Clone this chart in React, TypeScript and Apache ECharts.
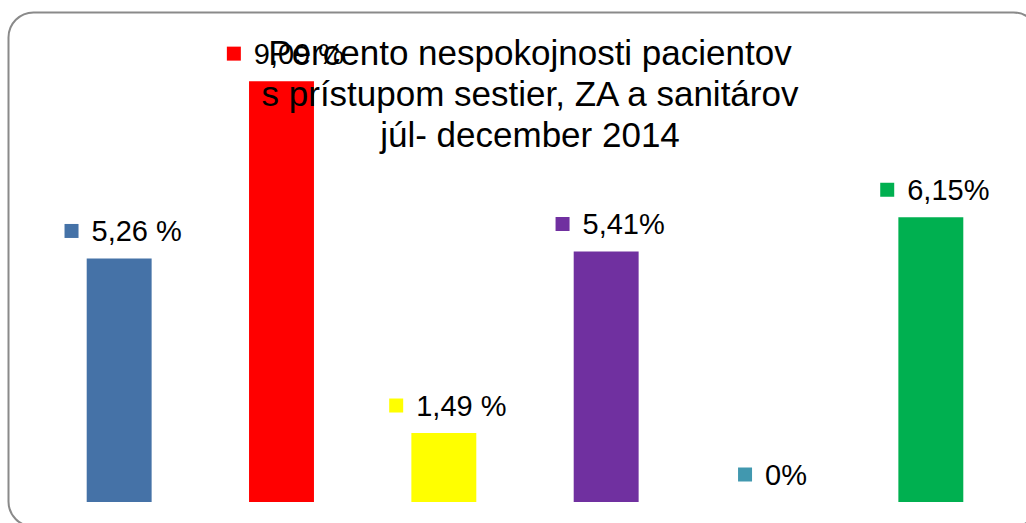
import React, { useEffect, useRef } from "react";
import * as echarts from "echarts";

const categories = ["A", "B", "C", "D", "E", "F"];
const values = [5.26, 9.09, 1.49, 5.41, 0, 6.15];
const labels = ["5,26 %", "9,09 %", "1,49 %", "5,41%", "0%", "6,15%"];
const colors = ["#4572A7", "#FF0000", "#FFFF00", "#7030A0", "#4198AF", "#00B050"];
const titleText = "Percento nespokojnosti pacientov\ns prístupom sestier, ZA a sanitárov\njúl- december 2014";

export default function App() {
  const ref = useRef<HTMLDivElement>(null);
  useEffect(() => {
    if (!ref.current) return;
    const chart = echarts.init(ref.current, undefined, { renderer: "svg" });
    const rich: any = {
      t: { fontSize: 29, color: "#000", fontFamily: "Liberation Sans, Arial, sans-serif", padding: [0, 0, 0, 13] },
    };
    colors.forEach((c, i) => {
      rich["s" + i] = { width: 14, height: 14, backgroundColor: c };
    });
    chart.setOption({
      animation: false,
      backgroundColor: "#fff",
      title: {
        text: titleText,
        left: 525,
        top: 27,
        textAlign: "center",
        textStyle: {
          fontSize: 35,
          fontWeight: "normal",
          color: "#000",
          lineHeight: 41,
          fontFamily: "Liberation Sans, Arial, sans-serif",
        },
      },
      graphic: [
        {
          type: "rect",
          shape: { x: 8.5, y: 12.5, width: 1030, height: 514, r: 25 },
          style: { fill: "none", stroke: "#8a8a8a", lineWidth: 2 },
          z: -10,
        },
      ],
      grid: { left: 38, right: 14, top: 39, bottom: 21 },
      xAxis: {
        type: "category",
        data: categories,
        show: false,
      },
      yAxis: { type: "value", min: 0, max: 10, show: false },
      series: [
        {
          type: "bar",
          barWidth: "40%",
          data: values.map((v, i) => ({ value: v, itemStyle: { color: colors[i] } })),
          label: {
            show: true,
            position: "top",
            distance: 13,
            offset: [4, 0],
            formatter: (p: any) => `{s${p.dataIndex}|}{t|${labels[p.dataIndex]}}`,
            rich,
          },
        },
      ],
    });
    return () => chart.dispose();
  }, []);
  return <div ref={ref} style={{ position: "fixed", left: 0, top: 0, width: 1026, height: 523 }} />;
}
